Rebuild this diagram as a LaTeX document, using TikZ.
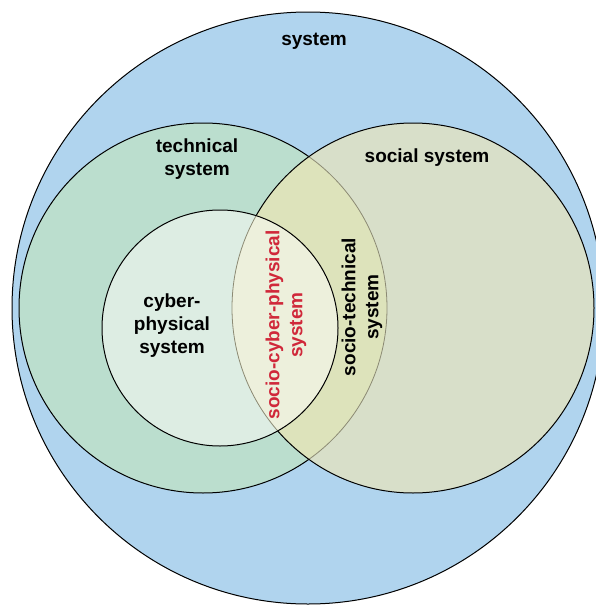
\documentclass[tikz,border=0pt]{standalone}
\usepackage{fontspec}
\setmainfont{Liberation Sans}
\definecolor{sysblue}{HTML}{B0D4EE}
\definecolor{techgreen}{HTML}{BBDECE}
\definecolor{socialtan}{HTML}{D8DFC9}
\definecolor{lensyellow}{HTML}{DDE3BB}
\definecolor{cyberpale}{HTML}{DDEDE3}
\definecolor{cyberlens}{HTML}{EDF0DC}
\definecolor{seamgrey}{HTML}{8C8A74}
\definecolor{scpred}{HTML}{D0283A}
\tikzset{
    lbl/.style={font=\fontsize{19}{23}\selectfont\bfseries, align=center, inner sep=0pt},
    seam/.style={draw=seamgrey, line width=0.8pt},
}
\begin{document}
\begin{tikzpicture}[x=1pt, y=-1pt, line width=1pt]
    \useasboundingbox (0, 0) rectangle (596, 605);
    \clip (0, 0) rectangle (596, 605);
    \coordinate (sys) at (308, 308);
    \coordinate (tech) at (203, 308);
    \coordinate (soc) at (413, 308);
    \coordinate (cps) at (220, 328);
    % outer system
    \fill[sysblue] (sys) circle (296pt);
    \draw (sys) circle (296pt);
    % technical and social
    \fill[techgreen] (tech) ellipse (184pt and 185pt);
    \draw (tech) ellipse (184pt and 185pt);
    \fill[socialtan] (soc) ellipse (181pt and 185pt);
    \begin{scope}
        \clip (tech) ellipse (184pt and 185pt);
        \fill[lensyellow] (soc) ellipse (181pt and 185pt);
    \end{scope}
    \begin{scope}
        \clip (soc) ellipse (181pt and 185pt);
        \draw[seam] (tech) ellipse (184pt and 185pt);
    \end{scope}
    \draw (soc) ellipse (181pt and 185pt);
    % cyber-physical
    \fill[cyberpale] (cps) circle (118pt);
    \begin{scope}
        \clip (cps) circle (118pt);
        \fill[cyberlens] (soc) ellipse (181pt and 185pt);
        \draw[seam] (soc) ellipse (181pt and 185pt);
    \end{scope}
    \draw (cps) circle (118pt);
    % labels
    \node[lbl] (system) at (314, 41) {system};
    \node[lbl] (technical) at (197, 159) {technical\\system};
    \node[lbl] (social) at (427, 158) {social system};
    \node[lbl] (cyber) at (172, 326) {cyber-\\physical\\system};
    \node[lbl, rotate=90, text=scpred] (scps) at (286, 325) {socio-cyber-physical\\system};
    \node[lbl, rotate=90] (sociotech) at (362, 307) {socio-technical\\system};
\end{tikzpicture}
\end{document}
